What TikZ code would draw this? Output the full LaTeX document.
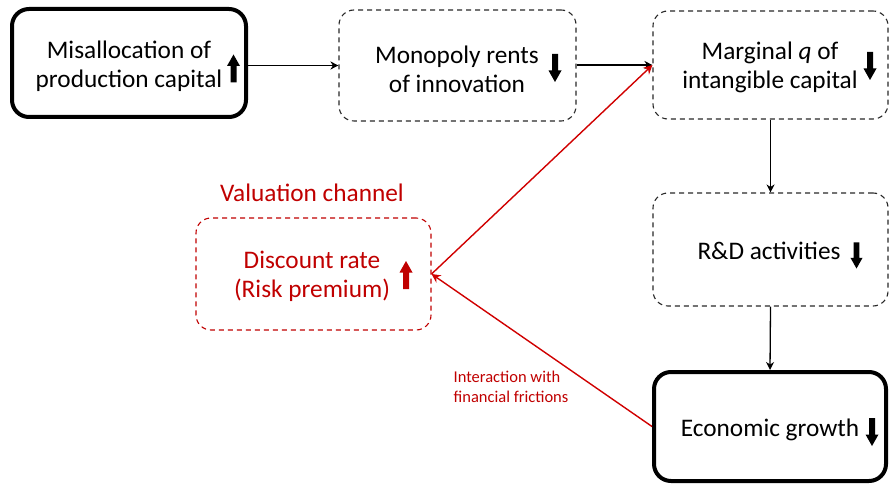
\documentclass[tikz,border=0pt]{standalone}
\usepackage{fontspec}
\setmainfont{Carlito}
\usetikzlibrary{arrows.meta}
\definecolor{dred}{RGB}{192,0,0}
\definecolor{lred}{RGB}{208,0,0}
\definecolor{dgray}{RGB}{40,40,40}
\tikzset{
  thickbox/.style={draw=black, line width=4pt, rounded corners=17pt, inner sep=0pt},
  dashbox/.style={draw=dgray, line width=1.1pt, dash pattern=on 5pt off 4pt, rounded corners=15pt, inner sep=0pt},
  reddashbox/.style={draw=dred, line width=1.1pt, dash pattern=on 5pt off 4pt, rounded corners=15pt, inner sep=0pt},
  boxtext/.style={font=\fontsize{25.3}{29}\selectfont, align=center, inner sep=0pt},
  smalltext/.style={font=\fontsize{16.5}{19.5}\selectfont, align=left, inner sep=0pt, text=dred},
  conn/.style={line width=1.3pt, -{Stealth[length=8pt,width=8pt,inset=2.5pt]}},
  redconn/.style={line width=1.4pt, draw=lred, -{Stealth[length=9pt,width=9pt,inset=3pt]}},
  uarr/.pic={\fill (0,-14) -- (6.5,-2.5) -- (3,-2.5) -- (3,14) -- (-3,14) -- (-3,-2.5) -- (-6.5,-2.5) -- cycle;},
  darr/.pic={\fill (0,14) -- (6.5,2.5) -- (3,2.5) -- (3,-14) -- (-3,-14) -- (-3,2.5) -- (-6.5,2.5) -- cycle;}
}
\begin{document}
\begin{tikzpicture}[x=1pt,y=-1pt]
\useasboundingbox (0,0) rectangle (890,486);
% boxes
\node[thickbox, minimum width=234pt, minimum height=108pt] (b1) at (129,63) {};
\node[dashbox, minimum width=237pt, minimum height=111pt] (b2) at (457.5,65.5) {};
\node[dashbox, minimum width=235pt, minimum height=108pt] (b3) at (770.5,65) {};
\node[dashbox, minimum width=235pt, minimum height=113pt] (b4) at (770.5,249.5) {};
\node[thickbox, minimum width=232pt, minimum height=109pt] (b5) at (770,426.5) {};
\node[reddashbox, minimum width=235pt, minimum height=112pt] (rb) at (313.5,274) {};
% texts
\node[boxtext] (t1) at (129,66) {Misallocation of\\production capital};
\node[boxtext] (t2) at (457,69) {Monopoly rents\\of innovation};
\node[boxtext] (t3) at (770,67) {Marginal \textit{q} of\\intangible capital};
\node[boxtext] (t4) at (769,251) {R\&D activities};
\node[boxtext] (t5) at (770,430) {Economic growth};
\node[boxtext, text=dred] (tr) at (312,276) {Discount rate\\(Risk premium)};
\node[boxtext, text=dred] (tv) at (312,193) {Valuation channel};
\node[smalltext] (ti) at (511,387) {Interaction with\\financial frictions};
% block arrows
\pic at (233.5,68.5) {uarr};
\pic at (555,68) {darr};
\pic at (870,66) {darr};
\pic[scale=0.93] at (856.5,255.5) {darr};
\pic at (872,432) {darr};
\pic[color=dred] at (406,275) {uarr};
% connectors
\draw[conn] (b1.east |- b2.west) -- (b2.west);
\draw[conn] (b2.east |- b3.west) -- (b3.west);
\draw[conn] (b3.south) -- (b4.north);
\draw[conn] (b4.south) -- (b5.north);
\draw[redconn] (b5.west) -- (rb.east);
\draw[redconn] (rb.east) -- (b3.west);
\end{tikzpicture}
\end{document}
